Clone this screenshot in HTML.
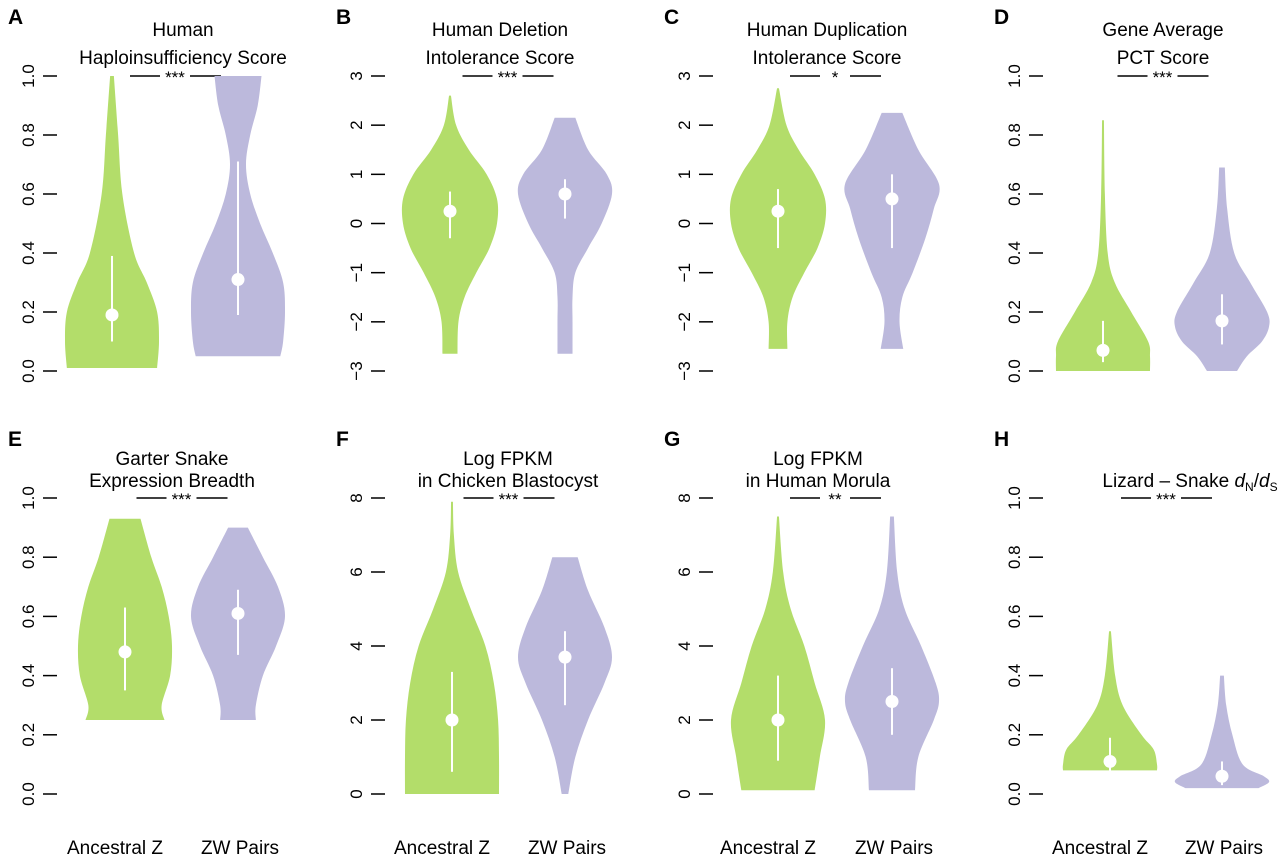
<!DOCTYPE html>
<html><head><meta charset="utf-8">
<style>
html,body{margin:0;padding:0;background:#fff;}
svg{display:block;font-family:"Liberation Sans",Arial,sans-serif;}
</style></head>
<body>
<svg id="fig" width="1280" height="855" viewBox="0 0 1280 855" xmlns="http://www.w3.org/2000/svg"></svg>
<script>
// ---------- data ----------
const panelLetters = ["A","B","C","D","E","F","G","H"];
const panelTitles = [
 ["Human","Haploinsufficiency Score"],
 ["Human Deletion","Intolerance Score"],
 ["Human Duplication","Intolerance Score"],
 ["Gene Average","PCT Score"],
 ["Garter Snake","Expression Breadth"],
 ["Log FPKM","in Chicken Blastocyst"],
 ["Log FPKM","in Human Morula"],
 ["", "Lizard \u2013 Snake dN/dS"]
];
const significance = ["***","***","*","***","***","***","**","***"];
const groupLabels = ["Ancestral Z","ZW Pairs"];
const yMin = [0,-3,-3,0,0,0,0,0];
const yMax = [1,3,3,1,1,8,8,1];
const tickLabels = [
 ["0.0","0.2","0.4","0.6","0.8","1.0"],
 ["\u22123","\u22122","\u22121","0","1","2","3"],
 ["\u22123","\u22122","\u22121","0","1","2","3"],
 ["0.0","0.2","0.4","0.6","0.8","1.0"],
 ["0.0","0.2","0.4","0.6","0.8","1.0"],
 ["0","2","4","6","8"],
 ["0","2","4","6","8"],
 ["0.0","0.2","0.4","0.6","0.8","1.0"]
];
const tickValues = [
 [0,0.2,0.4,0.6,0.8,1],[-3,-2,-1,0,1,2,3],[-3,-2,-1,0,1,2,3],[0,0.2,0.4,0.6,0.8,1],
 [0,0.2,0.4,0.6,0.8,1],[0,2,4,6,8],[0,2,4,6,8],[0,0.2,0.4,0.6,0.8,1]
];
// density profiles: value levels (top->bottom) and relative half-widths (0..1)
const greenLevels = [
 [1.0,0.8,0.6,0.4,0.3,0.2,0.1,0.01],
 [2.6,2,1.5,1,0.5,0,-0.5,-1,-1.5,-2,-2.65],
 [2.75,2,1.5,1,0.5,0,-0.5,-1,-1.5,-2,-2.55],
 [0.85,0.6,0.4,0.3,0.2,0.1,0.05,0],
 [0.93,0.8,0.7,0.6,0.5,0.4,0.3,0.25],
 [7.9,7,6,5,4,3,2,1,0],
 [7.5,6,5,4,3,2,1,0.1],
 [0.55,0.4,0.3,0.2,0.15,0.1,0.08]
];
const greenWidths = [
 [0.04,0.13,0.22,0.47,0.74,0.96,1,0.96],
 [0.02,0.13,0.4,0.78,1,1,0.84,0.56,0.31,0.18,0.16],
 [0.02,0.18,0.44,0.78,1,1,0.84,0.56,0.31,0.2,0.2],
 [0.02,0.04,0.1,0.25,0.6,0.96,1,1],
 [0.33,0.56,0.78,0.93,1,0.96,0.78,0.84],
 [0.02,0.04,0.13,0.4,0.71,0.89,0.98,1,1],
 [0.02,0.11,0.27,0.56,0.78,1,0.89,0.78],
 [0.02,0.11,0.27,0.67,0.93,1,1]
];
const purpleLevels = [
 [1.0,0.9,0.8,0.7,0.6,0.5,0.4,0.3,0.2,0.1,0.05],
 [2.15,1.5,1,0.6,0,-0.5,-1,-1.5,-2,-2.65],
 [2.25,1.5,0.8,0.3,-0.3,-1,-1.5,-2,-2.55],
 [0.69,0.55,0.4,0.3,0.2,0.15,0.1,0.05,0],
 [0.9,0.8,0.7,0.6,0.5,0.4,0.3,0.25],
 [6.4,5.5,4.5,3.7,3,2,1,0],
 [7.5,6,5,4,3,2.5,2,1,0.1],
 [0.4,0.3,0.2,0.1,0.06,0.04,0.02]
];
const purpleWidths = [
 [0.5,0.42,0.26,0.17,0.26,0.47,0.74,0.96,1,0.96,0.9],
 [0.22,0.49,0.89,1,0.78,0.49,0.22,0.16,0.16,0.16],
 [0.22,0.56,1,0.89,0.71,0.44,0.22,0.16,0.24],
 [0.06,0.11,0.26,0.6,0.96,1,0.85,0.53,0.32],
 [0.21,0.53,0.85,1,0.81,0.53,0.38,0.38],
 [0.27,0.49,0.84,1,0.84,0.49,0.22,0.07],
 [0.04,0.11,0.27,0.62,0.93,1,0.89,0.56,0.49],
 [0.04,0.09,0.22,0.44,0.89,1,0.78]
];
const greenMedian = [0.19,0.25,0.25,0.07,0.48,2.0,2.0,0.11];
const greenQ1 = [0.1,-0.3,-0.5,0.03,0.35,0.6,0.9,0.07];
const greenQ3 = [0.39,0.65,0.7,0.17,0.63,3.3,3.2,0.19];
const purpleMedian = [0.31,0.6,0.5,0.17,0.61,3.7,2.5,0.06];
const purpleQ1 = [0.19,0.1,-0.5,0.09,0.47,2.4,1.6,0.03];
const purpleQ3 = [0.71,0.9,1.0,0.26,0.69,4.4,3.4,0.11];

// ---------- layout ----------
const axisXs = [50,378,706,1036];
const greenXs = [112,450,778,1103,125,452,778,1110];
const purpleXs = [238,565,892,1222,238,565,892,1222];
const titleCx = [183,500,827,1163,172,508,818,1190];
const rowTop = [76,498], rowBot = [371,794];
const maxHalf = 47;
const GREEN = "#b3dd6a", PURPLE = "#bcb9dc";
const NS = "http://www.w3.org/2000/svg";
const svg = document.getElementById("fig");
function mk(tag, attrs, parent){const e=document.createElementNS(NS,tag);for(const k in attrs)e.setAttribute(k,attrs[k]);(parent||svg).appendChild(e);return e;}

function smoothPath(pts){
  let d="M"+pts[0][0]+","+pts[0][1];
  for(let i=0;i<pts.length-1;i++){
    const p0=pts[Math.max(0,i-1)],p1=pts[i],p2=pts[i+1],p3=pts[Math.min(pts.length-1,i+2)];
    const c1=[p1[0]+(p2[0]-p0[0])/6,p1[1]+(p2[1]-p0[1])/6];
    const c2=[p2[0]-(p3[0]-p1[0])/6,p2[1]-(p3[1]-p1[1])/6];
    d+=" C"+c1[0]+","+c1[1]+" "+c2[0]+","+c2[1]+" "+p2[0]+","+p2[1];
  }
  return d;
}

for(let p=0;p<8;p++){
  const row=p<4?0:1, col=p%4;
  const g=mk("g",{});
  
  
  const y0=rowBot[row], y1=rowTop[row];
  const yScale=v=>y0+(v-yMin[p])/(yMax[p]-yMin[p])*(y1-y0);
  const ax=axisXs[col];
  // letter
  const L=mk("text",{x:ax-42,y:row?446:24,"font-size":21,"font-weight":"bold",fill:"#000"},g);
  L.textContent=panelLetters[p];
  
  
  // title
  const t1=mk("text",{x:titleCx[p],y:row?465:36,"font-size":19,"text-anchor":"middle",fill:"#000"},g);
  t1.textContent=panelTitles[p][0];
  
  
  const t2=mk("text",{x:titleCx[p],y:row?487:64,"font-size":19,"text-anchor":"middle",fill:"#000"},g);
  if(p===7){
    t2.innerHTML='Lizard \u2013 Snake <tspan font-style="italic">d</tspan><tspan font-size="12" dy="4">N</tspan><tspan dy="-4">/</tspan><tspan font-style="italic">d</tspan><tspan font-size="12" dy="4">S</tspan>';
  } else t2.textContent=panelTitles[p][1];
  
  
  // significance
  const sy=y1, cx=(greenXs[p]+purpleXs[p])/2;
  mk("line",{x1:cx-45,x2:cx-15,y1:sy,y2:sy,stroke:"#000","stroke-width":1.5},g);
  mk("line",{x1:cx+15,x2:cx+46,y1:sy,y2:sy,stroke:"#000","stroke-width":1.5},g);
  const st=mk("text",{x:cx,y:sy+7,"font-size":17,"text-anchor":"middle",fill:"#000"},g);
  st.textContent=significance[p];
  
  
  // ticks
  tickValues[p].forEach((v,i)=>{
    const y=yScale(v);
    mk("line",{x1:ax-7,x2:ax+7,y1:y,y2:y,stroke:"#000","stroke-width":1.5},g);
    const tl=mk("text",{x:0,y:0,"font-size":17,"text-anchor":"middle",fill:"#000",transform:`translate(${ax-16},${y}) rotate(-90)`},g);
    tl.textContent=tickLabels[p][i];
    
    
  });
  // violins
  [[greenLevels,greenWidths,greenXs,GREEN,greenMedian,greenQ1,greenQ3,"green"],
   [purpleLevels,purpleWidths,purpleXs,PURPLE,purpleMedian,purpleQ1,purpleQ3,"purple"]].forEach(s=>{
    const lv=s[0][p], wd=s[1][p], x=s[2][p];
    const right=lv.map((v,i)=>[x+wd[i]*maxHalf,yScale(v)]);
    const left=lv.map((v,i)=>[x-wd[i]*maxHalf,yScale(v)]).reverse();
    let d=smoothPath(right)+" L"+left[0][0]+","+left[0][1]+smoothPath(left).replace(/^M[^ ]+/,"")+" Z";
    const v=mk("path",{d:d,fill:s[3]},g);
    
    
    const w=mk("line",{x1:x,x2:x,y1:yScale(s[5][p]),y2:yScale(s[6][p]),stroke:"#fff","stroke-width":2},g);
    
    
    const m=mk("circle",{cx:x,cy:yScale(s[4][p]),r:6.5,fill:"#fff"},g);
    
    
  });
  if(row===1){
    [greenXs[p]-10,purpleXs[p]+2].forEach((x,i)=>{
      const xl=mk("text",{x:x,y:854,"font-size":19,"text-anchor":"middle",fill:"#000"},g);
      xl.textContent=groupLabels[i];
      
      
    });
  }
}
</script>
</body></html>
